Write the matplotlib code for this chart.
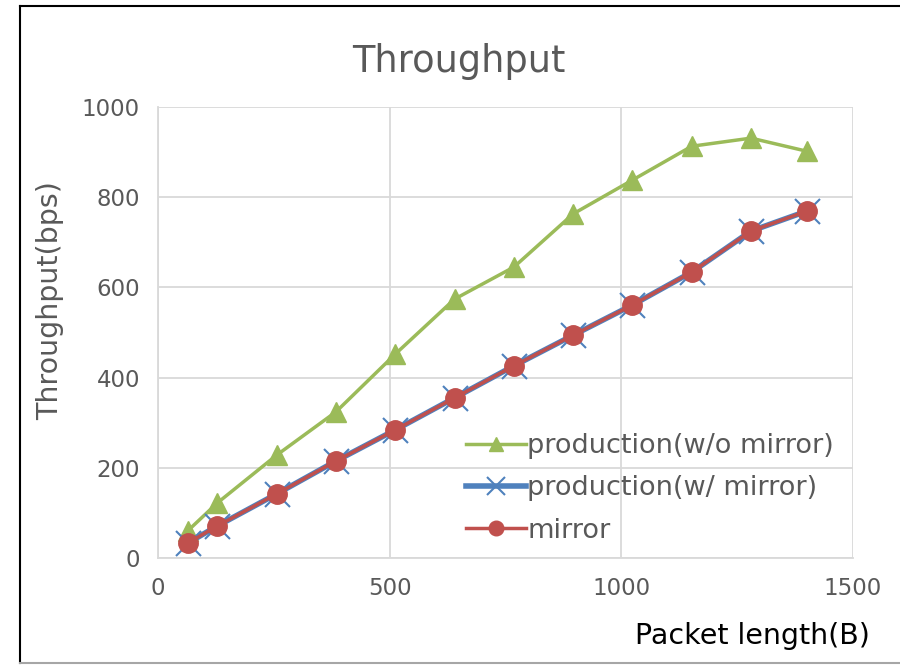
import matplotlib
matplotlib.use('Agg')
import matplotlib.pyplot as plt
from matplotlib.lines import Line2D

# packet length (B)
packet_len = [64, 128, 256, 384, 512, 640, 768, 896, 1024, 1152, 1280, 1400]
# throughput values
prod_wo_mirror = [60, 122, 228, 324, 452, 574, 645, 763, 838, 913, 931, 902]
prod_w_mirror = [33, 71, 142, 215, 284, 355, 426, 494, 561, 634, 725, 769]
mirror = [33, 71, 142, 215, 284, 355, 426, 494, 561, 634, 725, 769]

x_ticks = [0, 500, 1000, 1500]
y_ticks = [0, 200, 400, 600, 800, 1000]

grey = '#595959'
plt.rcParams['font.family'] = ['DejaVu Sans']

fig = plt.figure(figsize=(9, 6.66), dpi=100)
ax = fig.add_axes([158 / 900, 1 - 558 / 666, (853 - 158) / 900, (558 - 107) / 666])

ax.plot(packet_len, prod_wo_mirror, color='#9BBB59', lw=2.5, marker='^',
        ms=14, label='production(w/o mirror)', zorder=3)
ax.plot(packet_len, prod_w_mirror, color='#4F81BD', lw=4, marker='x',
        ms=18, mew=1.5, label='production(w/ mirror)', zorder=4)
ax.plot(packet_len, mirror, color='#C0504D', lw=2.5, marker='o',
        ms=14, label='mirror', zorder=5)

ax.set_xlim(0, 1500)
ax.set_ylim(0, 1000)
ax.set_xticks(x_ticks)
ax.set_yticks(y_ticks)
ax.tick_params(length=0, labelsize=16.5, labelcolor=grey)
ax.tick_params(axis='y', pad=13)
ax.tick_params(axis='x', pad=14)
ax.grid(True, color='#D9D9D9', lw=1.3)
ax.set_axisbelow(True)
for s in ['top', 'right']:
    ax.spines[s].set_visible(False)
ax.spines['left'].set_color('#D9D9D9')
ax.spines['bottom'].set_color('#D9D9D9')
ax.spines['left'].set_linewidth(1.3)
ax.spines['bottom'].set_linewidth(1.3)

ax.set_ylabel('Throughput(bps)', fontsize=20.5, color=grey)
ax.yaxis.set_label_coords(-0.135, 0.57)
fig.text(0.51, 1 - 62 / 666, 'Throughput', ha='center', va='center',
         fontsize=26.5, color=grey)
fig.text(870 / 900, 1 - 636 / 666, 'Packet length(B)', ha='right', va='center',
         fontsize=20.5, color='black')

leg = ax.legend(loc='lower right', bbox_to_anchor=(1.0, -0.01), frameon=False,
                fontsize=19.5, labelcolor=grey, handlelength=2.2,
                handletextpad=0.05, labelspacing=0.6, borderaxespad=0.3,
                markerscale=0.75)

# outer chart border: black top and left, grey bottom
fig.lines.append(Line2D([20 / 900, 1], [1 - 6 / 666, 1 - 6 / 666],
                        transform=fig.transFigure, color='black', lw=1.5))
fig.lines.append(Line2D([20 / 900, 20 / 900], [1 - 6 / 666, 1 - 663 / 666],
                        transform=fig.transFigure, color='black', lw=1.5))
fig.lines.append(Line2D([20 / 900, 1], [1 - 663 / 666, 1 - 663 / 666],
                        transform=fig.transFigure, color='#A6A6A6', lw=1.5))

fig.savefig('out.png', dpi=100)
